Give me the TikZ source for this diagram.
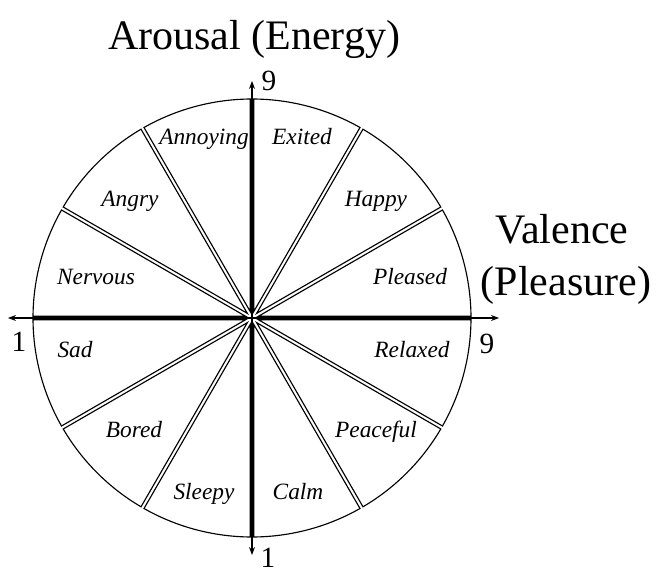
\documentclass[tikz,border=0pt]{standalone}
\usepackage{fontspec}
\setmainfont{Liberation Serif}[ItalicFont={Liberation Serif Italic}]
\usetikzlibrary{arrows.meta}
\begin{document}
\begin{tikzpicture}[x=0.75pt, y=0.75pt, >={Stealth[length=6pt,width=4.5pt]},
    sector/.style={draw, line width=0.85pt},
    mood/.style={font=\fontsize{17.5}{21}\selectfont\itshape, anchor=base, inner sep=0pt},
    tick/.style={font=\fontsize{22}{26}\selectfont, inner sep=0pt},
    axisname/.style={font=\fontsize{31.5}{38}\selectfont, anchor=base, inner sep=0pt}]
  \useasboundingbox (0,0) rectangle (656,572);
  \coordinate (O) at (252,254);

  % 12 sectors, 30 degrees each, edges pulled in a little
  \begin{scope}[shift={(O)}]
    \foreach \a in {0,30,...,330}
      \draw[sector] (\a+15:4.95pt) -- (\a+0.45:164.25pt)
        arc[start angle=\a+0.45, end angle=\a+29.55, radius=164.25pt] -- cycle;
  \end{scope}

  % axes
  \coordinate (xl) at (8,254);
  \coordinate (xr) at (499,254);
  \coordinate (yb) at (252,17);
  \coordinate (yt) at (252,491);
  \draw[<->, line width=0.8pt] (xl) -- (xr);
  \draw[<->, line width=0.8pt] (yb) -- (yt);

  % scale ends
  \node[tick] (xmin) at (19,230) {1};
  \node[tick] (xmax) at (487,228) {9};
  \node[tick] (ymax) at (269,491) {9};
  \node[tick] (ymin) at (268,14) {1};

  % axis names
  \node[axisname] (arousal) at (254,522) {Arousal (Energy)};
  \node[axisname] (valence) at (562,329) {Valence};
  \node[axisname] (pleasure) at (566,277) {(Pleasure)};

  % emotions
  \foreach \name/\x/\y/\txt in {exited/302/427.5/Exited, happy/376/365/Happy,
      pleased/410/288/Pleased, relaxed/412/215/Relaxed, peaceful/376/135/Peaceful,
      calm/298/73/Calm, sleepy/204/73/Sleepy, bored/134/135/Bored, sad/75/215/Sad,
      nervous/96/288/Nervous, angry/130/365/Angry, annoying/204/427.5/Annoying}
    \node[mood] (\name) at (\x,\y) {\txt};
\end{tikzpicture}
\end{document}
